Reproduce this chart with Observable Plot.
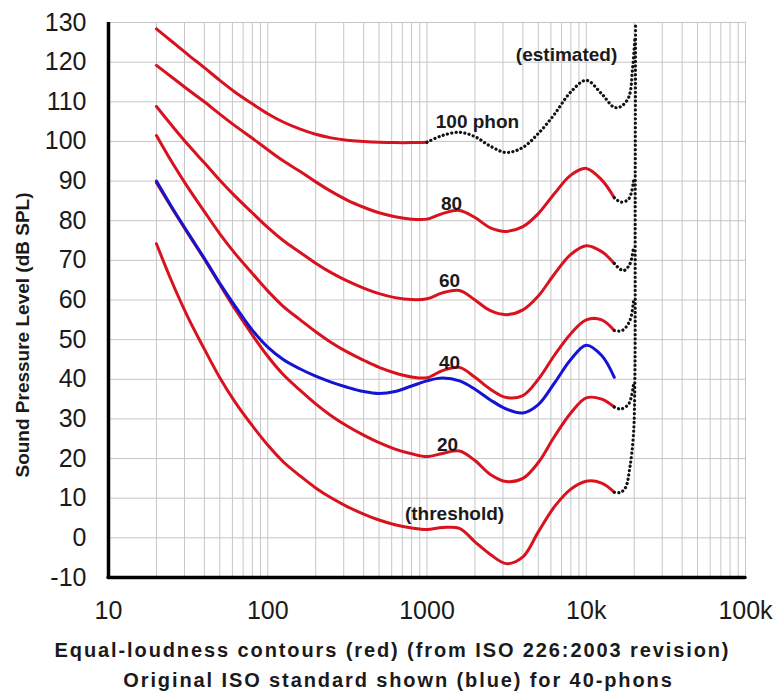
<!DOCTYPE html>
<html>
<head>
<meta charset="utf-8">
<script src="https://cdn.jsdelivr.net/npm/d3@7"></script>
<script src="https://cdn.jsdelivr.net/npm/@observablehq/plot@0.6"></script>
<style>
  body { margin: 0; background: #fff; }
  #chart { width: 775px; }
  .cap { font-family: "Liberation Sans", Arial, sans-serif; font-weight: bold; font-size: 20px;
         letter-spacing: 1.9px; color: #1a1a1a; text-align: center; width: 775px; line-height: 30px; white-space: nowrap; }
</style>
</head>
<body>
<div id="chart"></div>
<div class="cap" style="margin-top:3px; padding-left:10px; box-sizing:border-box;">Equal-loudness contours (red) (from ISO 226:2003 revision)</div>
<div class="cap" style="padding-left:22px; box-sizing:border-box;">Original ISO standard shown (blue) for 40-phons</div>
<script>
// ---- data ----
const freqs = [20, 25, 31.5, 40, 50, 63, 80, 100, 125, 160, 200, 250, 315, 400, 500, 630, 800,
               1000, 1250, 1600, 2000, 2500, 3150, 4000, 5000, 6300, 8000, 10000, 12500, 15000];

const phon100 = [128.4, 125.2, 121.9, 118.6, 115.4, 112.3, 109.5, 107.0, 104.9, 103.1, 101.8, 100.9, 100.3, 100.0, 99.8, 99.7, 99.7, 99.8];
const phon80  = [119.2, 116.2, 113.1, 110.0, 106.9, 103.8, 100.8, 97.9, 95.1, 92.4, 89.8, 87.4, 85.2, 83.4, 82.0, 81.0, 80.4,
                 80.4, 81.8, 82.6, 80.8, 78.2, 77.3, 78.5, 81.8, 86.8, 91.5, 93.2, 90.3, 85.8];
const phon60  = [108.8, 104.0, 99.2, 94.6, 90.2, 86.0, 82.0, 78.3, 75.0, 72.0, 69.3, 66.9, 64.8, 63.0, 61.6, 60.6, 60.1,
                 60.3, 61.8, 62.4, 60.0, 57.3, 56.3, 57.5, 61.0, 66.5, 71.5, 73.7, 72.2, 69.2];
const phon40  = [101.5, 94.8, 88.4, 82.3, 76.7, 71.5, 66.7, 62.3, 58.4, 55.0, 52.0, 49.3, 46.9, 44.8, 43.0, 41.6, 40.6,
                 40.4, 42.2, 43.0, 40.5, 37.5, 35.4, 35.9, 40.0, 46.0, 51.5, 55.0, 55.0, 52.3];
const phon20  = [89.6, 83.2, 76.8, 70.3, 63.9, 57.4, 51.2, 45.8, 41.2, 37.2, 33.8, 30.8, 28.2, 25.9, 24.0, 22.4, 21.2,
                 20.5, 21.3, 21.9, 19.5, 16.0, 14.2, 15.0, 19.0, 25.5, 31.5, 35.3, 35.0, 33.0];
const threshold = [74.2, 64.6, 55.7, 47.6, 40.4, 34.0, 28.3, 23.4, 19.2, 15.6, 12.6, 10.1, 7.9, 6.0, 4.5, 3.3, 2.5,
                   2.1, 2.6, 2.4, -1.0, -4.2, -6.5, -4.8, 1.5, 7.8, 12.3, 14.3, 13.8, 11.5];
const isoOriginal40 = [90.0, 83.4, 77.0, 70.5, 64.2, 58.2, 52.4, 48.1, 45.0, 42.6, 40.8, 39.3, 38.0, 36.9, 36.4, 36.9, 38.3,
                       39.6, 40.3, 39.6, 37.5, 34.8, 32.5, 31.5, 33.6, 39.0, 45.0, 48.6, 46.0, 40.5];

// estimated (dotted) extensions
const est100F = [1000, 1250, 1600, 2000, 2500, 3150, 4000, 5000, 6300, 8000, 10000, 12500, 15000, 16500, 18500, 19500, 20200];
const est100  = [99.8, 101.5, 102.3, 101.2, 98.8, 97.2, 98.5, 102.0, 106.8, 112.5, 115.4, 112.0, 108.6, 108.8, 111.2, 118.0, 126.0];
const est80F  = [15000, 16500, 18500, 19800];
const est80   = [85.8, 84.7, 85.5, 90.0];
const est60F  = [15000, 17100, 18800, 19800];
const est60   = [69.2, 67.4, 69.1, 73.3];
const est40F  = [15000, 16800, 18800, 19800];
const est40   = [52.3, 52.3, 54.8, 59.9];
const est20F  = [15000, 16500, 18500, 19800];
const est20   = [33.0, 32.5, 33.8, 38.8];
const estThF  = [15000, 16500, 17700, 18800, 19800, 20200, 20300, 20400];
const estTh   = [11.5, 11.5, 12.8, 17.8, 26.2, 40.0, 85.0, 130.0];

// labels (data coordinates)
const labelText = ["100 phon", "(estimated)", "80", "60", "40", "20", "(threshold)"];
const labelFreq = [2075, 7520, 1425, 1384, 1384, 1345, 1489];
const labelDb   = [104.8, 121.9, 84.3, 64.9, 44.2, 23.5, 6.1];

// axes
const yTicks = [-10, 0, 10, 20, 30, 40, 50, 60, 70, 80, 90, 100, 110, 120, 130];
const xTicks = [10, 100, 1000, 10000, 100000];
const xTickLabels = ["10", "100", "1000", "10k", "100k"];
const yTitle = "Sound Pressure Level (dB SPL)";

// ---- build tables ----
const toRows = (fs, vs, name) => vs.map((v, i) => ({f: fs[i], db: v, series: name}));
const redRows = [
  ...toRows(freqs, phon100, "100"),
  ...toRows(freqs, phon80, "80"),
  ...toRows(freqs, phon60, "60"),
  ...toRows(freqs, phon40, "40"),
  ...toRows(freqs, phon20, "20"),
  ...toRows(freqs, threshold, "0")
];
const blueRows = toRows(freqs, isoOriginal40, "iso");
const estRows = [
  ...toRows(est100F, est100, "100"),
  ...toRows(est80F, est80, "80"),
  ...toRows(est60F, est60, "60"),
  ...toRows(est40F, est40, "40"),
  ...toRows(est20F, est20, "20"),
  ...toRows(estThF, estTh, "0")
];
const labels = labelText.map((t, i) => ({t, f: labelFreq[i], db: labelDb[i]}));
const gridX = [];
for (const d of [10, 100, 1000, 10000]) for (let m = 2; m <= 10; m++) gridX.push(d * m);

const font = "'Liberation Sans', Arial, Helvetica, sans-serif";

const chart = Plot.plot({
  width: 775,
  height: 632,
  marginLeft: 108,
  marginRight: 30,
  marginTop: 22,
  marginBottom: 55,
  x: {type: "log", domain: [10, 100000]},
  y: {domain: [-10, 130]},
  style: {fontFamily: font, background: "#fff", color: "#1a1a1a"},
  marks: [
    Plot.ruleX(gridX, {y1: -10, y2: 130, stroke: "#c6c6c6", strokeWidth: 1}),
    Plot.ruleY(yTicks, {x1: 10, x2: 100000, stroke: "#c6c6c6", strokeWidth: 1}),
    Plot.line(redRows, {x: "f", y: "db", z: "series", stroke: "#d8121f", strokeWidth: 3, curve: "catmull-rom"}),
    Plot.line(blueRows, {x: "f", y: "db", stroke: "#1414d2", strokeWidth: 3, curve: "catmull-rom"}),
    Plot.line(estRows, {x: "f", y: "db", z: "series", stroke: "#111", strokeWidth: 3.2,
                        strokeDasharray: "0.1 4.3", strokeLinecap: "round", curve: "catmull-rom"}),
    Plot.ruleX([10], {y1: -10, y2: 130, stroke: "#000", strokeWidth: 3.5}),
    Plot.ruleY([-10], {x1: 10, x2: 100000, stroke: "#000", strokeWidth: 3.5, strokeLinecap: "round"}),
    Plot.text(labels, {x: "f", y: "db", text: "t", fontSize: 19, fontWeight: "bold", fill: "#1a1a1a",
                       textAnchor: "middle", lineAnchor: "middle", ariaLabel: "curve-labels"}),
    Plot.axisX(xTicks, {tickSize: 0, tickPadding: 24, fontSize: 25, label: null,
                        tickFormat: d => xTickLabels[xTicks.indexOf(d)]}),
    Plot.axisY(yTicks, {tickSize: 0, tickPadding: 22, fontSize: 25, label: null, tickFormat: d => String(d)}),
    Plot.text([yTitle], {frameAnchor: "left", dx: -86, dy: 35, rotate: -90, fontSize: 19, fontWeight: "bold",
                         fill: "#1a1a1a", textAnchor: "middle", lineAnchor: "middle", ariaLabel: "y-title"})
  ]
});
document.getElementById("chart").appendChild(chart);
d3.select(chart).selectAll('g[aria-label="y-title"] text').style("letter-spacing", "2.2px");
d3.select(chart).selectAll('g[aria-label="curve-labels"] text').style("letter-spacing", "1px");
</script>
</body>
</html>
